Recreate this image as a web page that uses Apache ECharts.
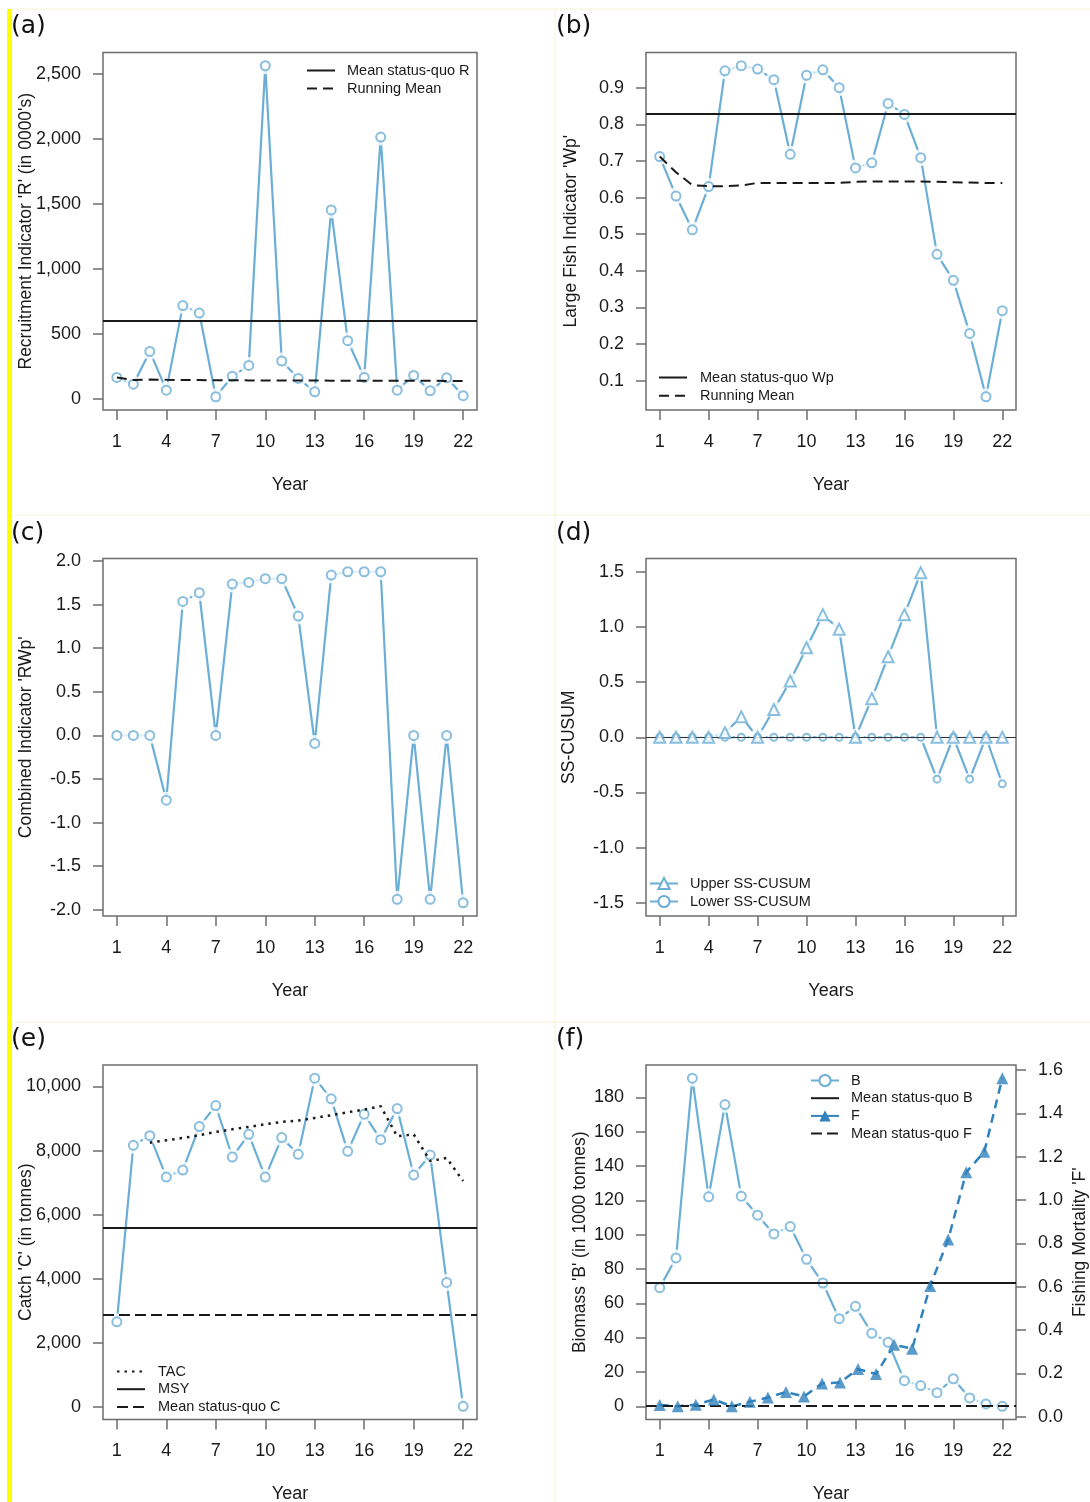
<!DOCTYPE html>
<html>
<head>
<meta charset="utf-8">
<title>Fishery indicators</title>
<script src="https://cdn.jsdelivr.net/npm/echarts@6.0.0/dist/echarts.min.js"></script>
<style>
  html, body { margin: 0; padding: 0; background: #fff; }
  #chart { width: 1090px; height: 1502px; }
</style>
</head>
<body>
<div id="chart"></div>
<script>
// ---- data ----
const YEARS = [1,2,3,4,5,6,7,8,9,10,11,12,13,14,15,16,17,18,19,20,21,22];
const YEAR_TICKS = [1,4,7,10,13,16,19,22];
const F_INDEX = [1,2,3,4,5,6,7,8,9,10,11,12,13,14,15,16,17,18,19,20];

// (a) recruitment
const recruitR = [167,115,367,69,719,662,18,175,259,2564,293,159,56,1455,449,167,2015,69,182,64,164,26];
const runMeanR = [166,146,150,148,147,146,145,145,144,144,143,143,143,142,142,142,141,141,141,141,140,140];
const meanStatusQuoR = 600;
const ticksR = [0,500,1000,1500,2000,2500];

// (b) large fish indicator
const largeFishWp = [0.712,0.604,0.512,0.630,0.946,0.960,0.951,0.922,0.718,0.934,0.949,0.900,0.681,0.695,0.857,0.827,0.709,0.445,0.374,0.229,0.056,0.291];
const runMeanWp = [0.712,0.669,0.634,0.631,0.631,0.633,0.640,0.640,0.640,0.640,0.640,0.640,0.643,0.644,0.644,0.644,0.644,0.643,0.642,0.641,0.640,0.640];
const meanStatusQuoWp = 0.827;
const ticksWp = [0.1,0.2,0.3,0.4,0.5,0.6,0.7,0.8,0.9];

// (c) combined indicator
const combinedRWp = [0,0,0,-0.743,1.536,1.636,0,1.736,1.755,1.797,1.797,1.368,-0.092,1.839,1.877,1.877,1.877,-1.881,0,-1.881,0,-1.920];
const ticksRWp = [-2,-1.5,-1,-0.5,0,0.5,1,1.5,2];

// (d) SS-CUSUM
const upperCusum = [0,0,0,0,0.042,0.186,0,0.251,0.509,0.811,1.111,0.979,0,0.350,0.730,1.111,1.491,0,0,0,0,0];
const lowerCusum = [0,0,0,0,0,0,0,0,0,0,0,0,0,0,0,0,0,-0.380,0,-0.380,0,-0.422];
const cusumLimits = [-1.5,1.5];
const ticksCusum = [-1.5,-1,-0.5,0,0.5,1,1.5];

// (e) catch
const catchC = [2659,8165,8467,7174,7393,8749,9406,7800,8509,7174,8405,7883,10261,9614,7977,9135,8342,9312,7237,7862,3889,21];
const tac = [null,null,8248,8321,8394,8478,8582,8665,8738,8822,8895,8936,9020,9103,9197,9280,9385,8446,8509,7675,7769,7049];
const msy = 5600;
const meanStatusQuoC = 2870;
const ticksC = [0,2000,4000,6000,8000,10000];

// (f) biomass and fishing mortality
const biomassB = [69.2,86.5,191.3,122.1,175.9,122.5,111.4,100.5,104.8,85.7,71.9,51.1,58.3,42.6,37.3,15.0,12.1,8.0,16.1,4.9,1.4,0];
const meanStatusQuoB = 72;
const fishingF = [0.054,0.049,0.055,0.080,0.048,0.069,0.089,0.114,0.094,0.154,0.158,0.220,0.197,0.332,0.314,0.603,0.818,1.128,1.222,1.562];
const meanStatusQuoF = 0.054;
const ticksB = [0,20,40,60,80,100,120,140,160,180];
const ticksF = [0,0.2,0.4,0.6,0.8,1.0,1.2,1.4,1.6];

// ---- styling ----
const BLUE = '#6baed6';
const DARK = '#3182bd';
const INK = '#1a1a1a';
const GREY = '#6e6e6e';
const FONT = '"Liberation Sans", Arial, sans-serif';

// R-like 4% padding of the plotted range
function ext(vals) {
  const v = vals.filter(d => d != null);
  const lo = Math.min(...v), hi = Math.max(...v), p = (hi - lo) * 0.04;
  return [lo - p, hi + p];
}
const pairs = (xs, ys) => xs.map((x, i) => [x, ys[i]]).filter(p => p[1] != null);

const X_EXT = ext(YEARS);
const FX_EXT = ext(F_INDEX);

const GRIDS = [
  { left: 103, top: 52.5, width: 374, height: 357.5 },
  { left: 646, top: 52.5, width: 370, height: 357.5 },
  { left: 103, top: 558.5, width: 374, height: 357.5 },
  { left: 646, top: 558.5, width: 370, height: 357.5 },
  { left: 103, top: 1065, width: 374, height: 354.5 },
  { left: 646, top: 1065, width: 370, height: 354.5 }
];

const comma = v => v.toLocaleString('en-US');
const oneDp = v => v.toFixed(1);
const plain = v => String(v);

function xAxis(g, name) {
  return {
    gridIndex: g, type: 'value', min: X_EXT[0], max: X_EXT[1],
    axisLine: { show: false, onZero: false },
    axisTick: { show: true, length: 10, customValues: YEAR_TICKS, lineStyle: { color: GREY, width: 1.5 } },
    axisLabel: { customValues: YEAR_TICKS, margin: 23, fontSize: 18, color: INK, fontFamily: FONT },
    splitLine: { show: false },
    name: name, nameLocation: 'middle', nameGap: 66, nameMoveOverlap: false,
    nameTextStyle: { fontSize: 18, color: INK, fontFamily: FONT }
  };
}
function yAxis(g, range, ticks, fmt, name, gap, position) {
  return {
    gridIndex: g, type: 'value', min: range[0], max: range[1], position: position || 'left',
    axisLine: { show: false, onZero: false },
    axisTick: { show: true, length: 10, customValues: ticks, lineStyle: { color: GREY, width: 1.5 } },
    axisLabel: { customValues: ticks, formatter: fmt, margin: 22, fontSize: 18, color: INK, fontFamily: FONT },
    splitLine: { show: false },
    name: name, nameLocation: 'middle', nameGap: gap, nameRotate: 90, nameMoveOverlap: false,
    nameTextStyle: { fontSize: 17.5, color: INK, fontFamily: FONT }
  };
}

// observed series drawn R "type b" style: line, white gap disc, marker
function observed(key, xi, yi, xs, ys, o) {
  const pts = pairs(xs, ys);
  const out = [{
    name: key + '-line', type: 'line', xAxisIndex: xi, yAxisIndex: yi, data: pts,
    symbol: 'none', z: 2, silent: true,
    lineStyle: { color: o.color, width: o.width || 2.2, type: o.dash || 'solid' }
  }];
  if (o.gap) {
    out.push({
      name: key + '-gap', type: 'scatter', xAxisIndex: xi, yAxisIndex: yi, data: pts,
      symbol: 'circle', symbolSize: o.gap, itemStyle: { color: '#fff' }, z: 3, silent: true
    });
  }
  out.push({
    name: key + '-pts', type: 'scatter', xAxisIndex: xi, yAxisIndex: yi, data: pts,
    symbol: o.symbol, symbolSize: o.size, z: o.z || 4, silent: true,
    itemStyle: o.filled ? { color: o.color } : { color: '#fff', borderColor: o.color, borderWidth: 2 }
  });
  return out;
}
// empty series that only carries a legend entry
function legendOnly(name, xi, yi, symbol, size, lineStyle) {
  return {
    name, type: 'line', xAxisIndex: xi, yAxisIndex: yi, data: [],
    symbol, symbolSize: size, lineStyle, itemStyle: { color: lineStyle.color }
  };
}
function hline(name, xi, yi, value, style, z) {
  return {
    name, type: 'line', xAxisIndex: xi, yAxisIndex: yi, data: [], symbol: 'none', z: z || 5,
    lineStyle: style, itemStyle: { color: style.color },
    markLine: {
      silent: true, symbol: ['none', 'none'], label: { show: false },
      lineStyle: style, data: [{ yAxis: value }], animation: false
    }
  };
}
function dashedLine(name, xi, yi, xs, ys, style) {
  return {
    name, type: 'line', xAxisIndex: xi, yAxisIndex: yi, data: pairs(xs, ys),
    symbol: 'none', z: 5, silent: true, lineStyle: style, itemStyle: { color: style.color }
  };
}
// legend entries for plain lines hide the default marker
const lineOnly = name => ({ name, itemStyle: { opacity: 0, color: 'rgba(0,0,0,0)', borderColor: 'rgba(0,0,0,0)' } });
function legend(left, top, gap, pad, items) {
  return {
    left, top, orient: 'vertical', itemWidth: 28, itemHeight: 14, itemGap: gap, padding: 0,
    selectedMode: false, data: items,
    textStyle: { fontSize: 14.5, color: INK, fontFamily: FONT, padding: [0, 0, 0, pad] }
  };
}

const SOLID = { color: INK, width: 2, type: 'solid' };
const DASH = { color: INK, width: 2, type: [10, 6] };
const DOT = { color: INK, width: 2.5, type: [2.5, 5] };

const series = [].concat(
  // (a)
  observed('R', 0, 0, YEARS, recruitR, { color: BLUE, symbol: 'circle', size: 9, gap: 17 }),
  hline('Mean status-quo R', 0, 0, meanStatusQuoR, SOLID),
  dashedLine('Running Mean', 0, 0, YEARS, runMeanR, DASH),
  // (b)
  observed('Wp', 1, 1, YEARS, largeFishWp, { color: BLUE, symbol: 'circle', size: 9, gap: 17 }),
  hline('Mean status-quo Wp', 1, 1, meanStatusQuoWp, SOLID),
  dashedLine('Running Mean', 1, 1, YEARS, runMeanWp, DASH),
  // (c)
  observed('RWp', 2, 2, YEARS, combinedRWp, { color: BLUE, symbol: 'circle', size: 9, gap: 17 }),
  // (d)
  observed('lower', 3, 3, YEARS, lowerCusum, { color: BLUE, symbol: 'circle', size: 7, gap: 13, z: 4 }),
  observed('upper', 3, 3, YEARS, upperCusum, { color: BLUE, symbol: 'triangle', size: 11, gap: 17, z: 5 }),
  hline('zero', 3, 3, 0, { color: '#333', width: 1, type: 'solid' }, 6),
  legendOnly('Upper SS-CUSUM', 3, 3, 'emptyTriangle', 10, { color: BLUE, width: 2 }),
  legendOnly('Lower SS-CUSUM', 3, 3, 'emptyCircle', 6, { color: BLUE, width: 2 }),
  // (e)
  observed('C', 4, 4, YEARS, catchC, { color: BLUE, symbol: 'circle', size: 9, gap: 17 }),
  dashedLine('TAC', 4, 4, YEARS, tac, DOT),
  hline('MSY', 4, 4, msy, SOLID),
  hline('Mean status-quo C', 4, 4, meanStatusQuoC, { color: INK, width: 2, type: [11, 5] }),
  // (f)
  observed('Bio', 5, 5, YEARS, biomassB, { color: BLUE, symbol: 'circle', size: 9, gap: 17 }),
  observed('Fm', 6, 6, F_INDEX, fishingF, { color: DARK, symbol: 'triangle', size: 12, filled: true, width: 2.5, dash: [9, 6], z: 5 }),
  hline('Mean status-quo B', 5, 5, meanStatusQuoB, SOLID),
  hline('Mean status-quo F', 6, 6, meanStatusQuoF, { color: INK, width: 2, type: [11, 5] }),
  legendOnly('B', 5, 5, 'emptyCircle', 12, { color: BLUE, width: 2 }),
  legendOnly('F', 6, 6, 'triangle', 12, { color: DARK, width: 2.5 })
);

const letters = ['(a)', '(b)', '(c)', '(d)', '(e)', '(f)'];
const letterPos = [[11, 14], [556, 14], [11, 521], [556, 521], [11, 1027], [556, 1027]];

const option = {
  animation: false,
  backgroundColor: '#fff',
  grid: GRIDS.map(g => Object.assign({ show: true, borderColor: GREY, borderWidth: 1.5, outerBoundsMode: 'none' }, g)),
  xAxis: [
    xAxis(0, 'Year'), xAxis(1, 'Year'), xAxis(2, 'Year'),
    xAxis(3, 'Years'), xAxis(4, 'Year'), xAxis(5, 'Year'),
    { gridIndex: 5, type: 'value', min: FX_EXT[0], max: FX_EXT[1], show: false }
  ],
  yAxis: [
    yAxis(0, ext(recruitR), ticksR, comma, "Recruitment Indicator 'R' (in 0000's)", 68),
    yAxis(1, ext(largeFishWp), ticksWp, oneDp, "Large Fish Indicator 'Wp'", 66),
    yAxis(2, ext(combinedRWp), ticksRWp, oneDp, "Combined Indicator 'RWp'", 68),
    yAxis(3, ext(cusumLimits), ticksCusum, oneDp, 'SS-CUSUM', 68),
    yAxis(4, ext(catchC), ticksC, comma, "Catch 'C' (in tonnes)", 68),
    yAxis(5, ext(biomassB), ticksB, plain, "Biomass 'B' (in 1000 tonnes)", 57),
    yAxis(5, ext(fishingF), ticksF, oneDp, "Fishing Mortality 'F'", 55, 'right')
  ],
  legend: [
    legend(306, 63, 3, 7, [lineOnly('Mean status-quo R'), lineOnly('Running Mean')]),
    legend(658, 370, 3.3, 8, [lineOnly('Mean status-quo Wp'), lineOnly('Running Mean')]),
    legend(649, 876, 3, 7, ['Upper SS-CUSUM', 'Lower SS-CUSUM']),
    legend(116, 1364, 2.7, 8, [lineOnly('TAC'), lineOnly('MSY'), lineOnly('Mean status-quo C')]),
    legend(810, 1073, 2.7, 7, ['B', lineOnly('Mean status-quo B'), 'F', lineOnly('Mean status-quo F')])
  ],
  graphic: [
    { type: 'rect', shape: { x: 7, y: 9, width: 5, height: 1493 }, style: { fill: '#ffff00' }, silent: true },
    { type: 'line', shape: { x1: 12, y1: 9, x2: 1090, y2: 9 }, style: { stroke: '#f6f3d2', lineWidth: 1 }, silent: true },
    { type: 'line', shape: { x1: 12, y1: 515, x2: 1090, y2: 515 }, style: { stroke: '#f6f3d2', lineWidth: 1 }, silent: true },
    { type: 'line', shape: { x1: 12, y1: 1022, x2: 1090, y2: 1022 }, style: { stroke: '#f6f3d2', lineWidth: 1 }, silent: true },
    { type: 'line', shape: { x1: 555, y1: 9, x2: 555, y2: 1502 }, style: { stroke: '#f6f3d2', lineWidth: 1 }, silent: true }
  ].concat(letters.map((t, i) => ({
    type: 'text', left: letterPos[i][0], top: letterPos[i][1], silent: true,
    style: { text: t, fontSize: 25, fontFamily: '"DejaVu Sans", sans-serif', fill: '#111' }
  }))),
  series: series
};

const chart = echarts.init(document.getElementById('chart'), null, { renderer: 'canvas' });
chart.setOption(option);
</script>
</body>
</html>
